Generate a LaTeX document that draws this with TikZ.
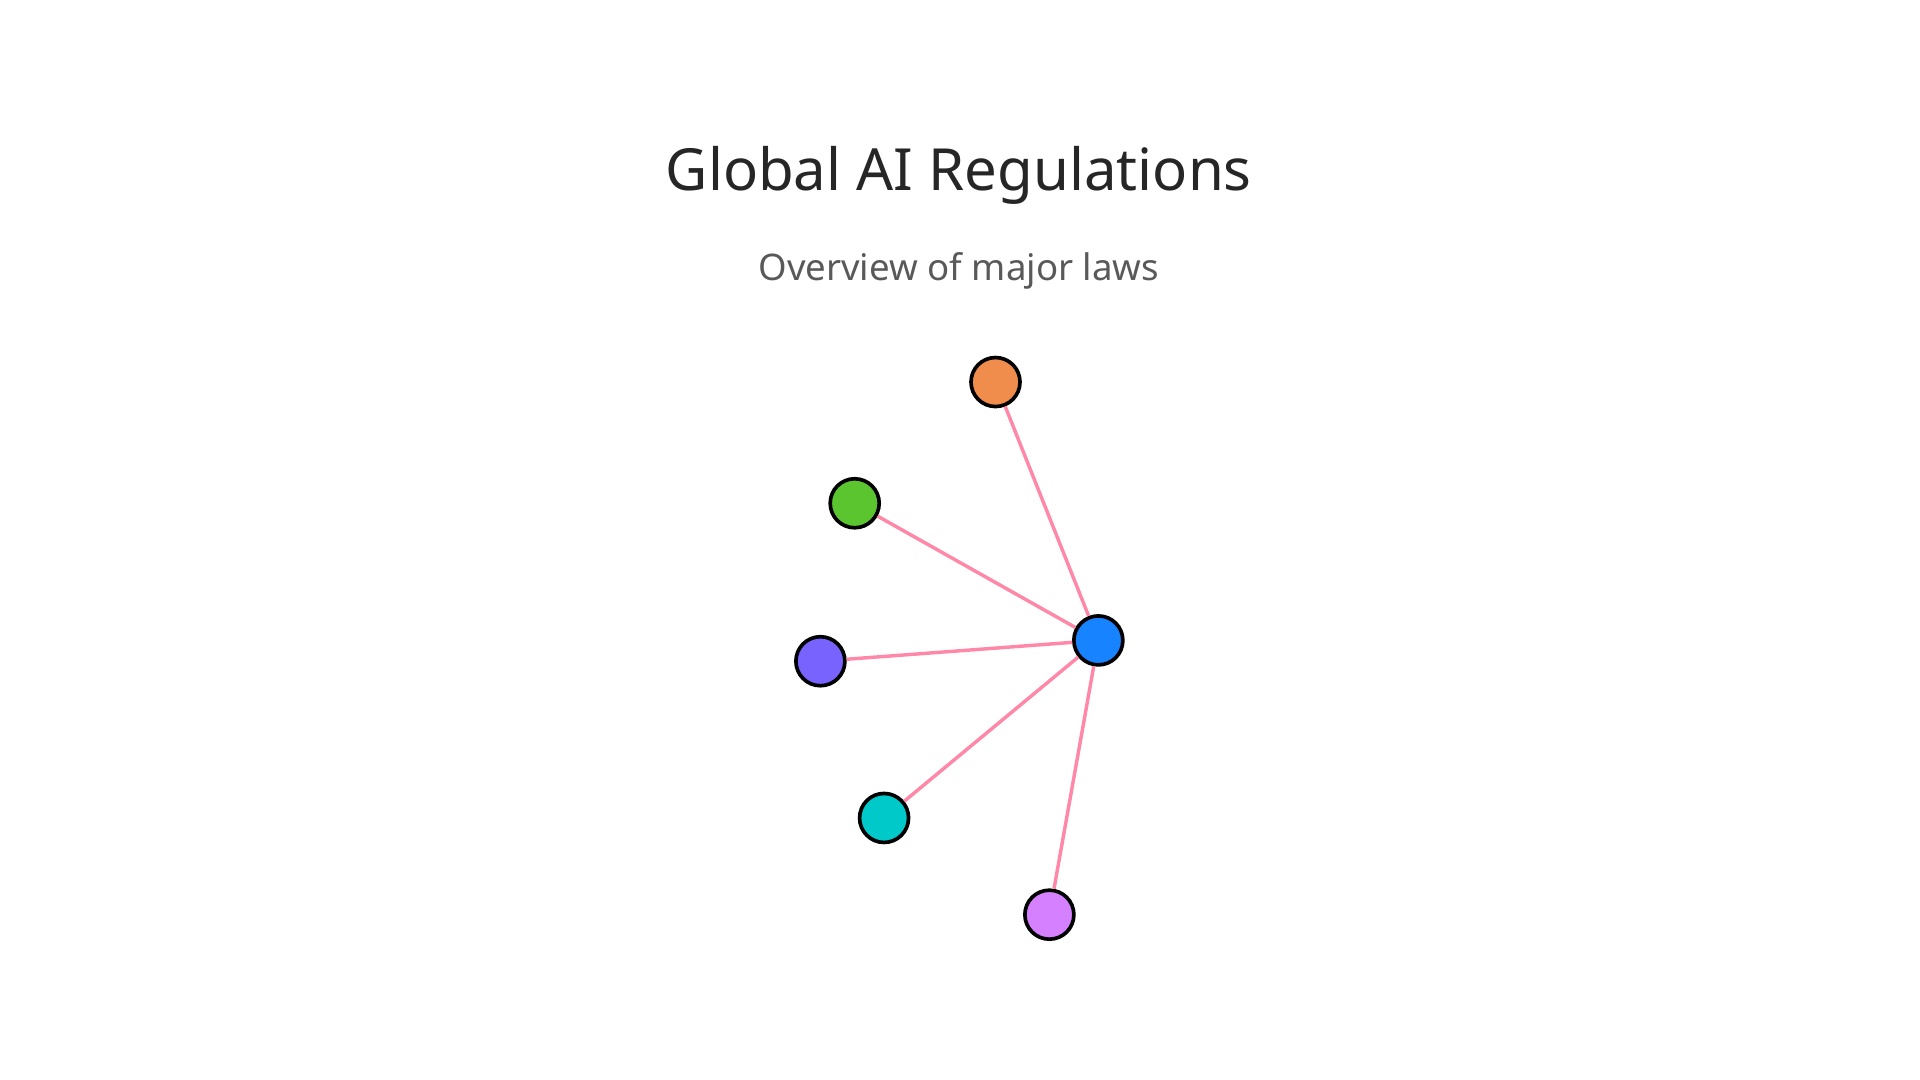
\documentclass[tikz,border=0pt]{standalone}
\usepackage{fontspec}
\setmainfont{Noto Sans}
\definecolor{edgec}{HTML}{FF88A8}
\definecolor{cblue}{HTML}{1783FF}
\definecolor{corange}{HTML}{F08C4C}
\definecolor{cgreen}{HTML}{5BC530}
\definecolor{cpurple}{HTML}{7863FF}
\definecolor{cteal}{HTML}{00C9C9}
\definecolor{cviolet}{HTML}{D580FF}
\begin{document}
\begin{tikzpicture}[x=0.01cm,y=-0.01cm,
  dot/.style={circle,draw=black,line width=0.85pt,minimum size=0.4cm,inner sep=0pt},
  edge/.style={draw=edgec,line width=0.8pt}]
\useasboundingbox (0,0) rectangle (1568,882);
\node[text=black!85,font=\fontsize{13.5}{16}\selectfont] (title) at (783,143) {Global AI Regulations};
\node[text=black!65,font=\fontsize{8.5}{10}\selectfont] (sub) at (783,221) {Overview of major laws};
\node[dot,fill=cblue] (c) at (897,523) {};
\node[dot,fill=corange] (a) at (813,312) {};
\node[dot,fill=cgreen] (b) at (698,411) {};
\node[dot,fill=cpurple] (d) at (670,540) {};
\node[dot,fill=cteal] (e) at (722,668) {};
\node[dot,fill=cviolet] (f) at (857,747) {};
\begin{scope}[on background layer/.try]
\end{scope}
\foreach \n in {a,b,d,e,f} \draw[edge] (c) -- (\n);
\end{tikzpicture}
\end{document}
